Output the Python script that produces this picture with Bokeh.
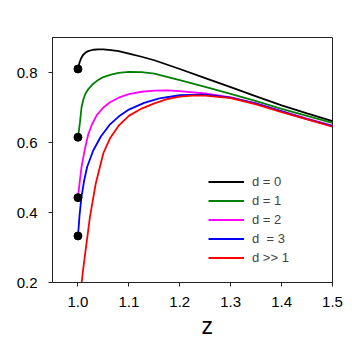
from bokeh.plotting import figure
from bokeh.models import Range1d, FixedTicker, Legend, LegendItem, Title, PrintfTickFormatter
from bokeh.embed import file_html
from bokeh.resources import INLINE

# d = 0
z_d0 = [1.0, 1.003, 1.006, 1.01, 1.015, 1.02, 1.03, 1.04, 1.05, 1.065, 1.08, 1.1, 1.125, 1.15, 1.2, 1.25, 1.3, 1.35, 1.4, 1.45, 1.5]
v_d0 = [0.81, 0.828, 0.84, 0.85, 0.857, 0.861, 0.865, 0.866, 0.866, 0.864, 0.861, 0.854, 0.845, 0.835, 0.810, 0.784, 0.758, 0.732, 0.706, 0.683, 0.661]
# d = 1
z_d1 = [1.0, 1.002, 1.004, 1.007, 1.011, 1.015, 1.02, 1.03, 1.04, 1.05, 1.065, 1.08, 1.1, 1.125, 1.15, 1.2, 1.25, 1.3, 1.35, 1.4, 1.45, 1.5]
v_d1 = [0.615, 0.635, 0.658, 0.700, 0.725, 0.740, 0.752, 0.768, 0.779, 0.787, 0.794, 0.799, 0.802, 0.801, 0.797, 0.778, 0.759, 0.739, 0.718, 0.696, 0.676, 0.656]
# d = 2
z_d2 = [1.0, 1.001, 1.003, 1.007, 1.013, 1.02, 1.027, 1.037, 1.05, 1.063, 1.08, 1.1, 1.125, 1.15, 1.175, 1.2, 1.25, 1.3, 1.35, 1.4, 1.45, 1.5]
v_d2 = [0.4425, 0.455, 0.482, 0.530, 0.577, 0.622, 0.650, 0.678, 0.700, 0.715, 0.728, 0.738, 0.745, 0.748, 0.749, 0.747, 0.740, 0.729, 0.712, 0.690, 0.668, 0.648]
# d = 3
z_d3 = [1.0, 1.0015, 1.003, 1.0067, 1.012, 1.018, 1.03, 1.045, 1.063, 1.08, 1.1, 1.13, 1.16, 1.2, 1.25, 1.3, 1.35, 1.4, 1.45, 1.5]
v_d3 = [0.333, 0.36, 0.39, 0.4425, 0.490, 0.530, 0.577, 0.617, 0.652, 0.674, 0.694, 0.713, 0.726, 0.735, 0.737, 0.728, 0.711, 0.689, 0.667, 0.647]
# d >> 1
z_inf = [1.0073, 1.010, 1.015, 1.0235, 1.035, 1.05, 1.063, 1.08, 1.1, 1.125, 1.15, 1.175, 1.2, 1.225, 1.25, 1.3, 1.35, 1.4, 1.45, 1.5]
v_inf = [0.20, 0.235, 0.292, 0.387, 0.483, 0.570, 0.612, 0.648, 0.676, 0.697, 0.712, 0.724, 0.731, 0.734, 0.734, 0.727, 0.709, 0.687, 0.666, 0.645]

# end points at z = 1
dot_z = [1.0, 1.0, 1.0, 1.0]
dot_v = [0.81, 0.615, 0.4425, 0.333]

labels = ["d = 0", "d = 1", "d = 2", "d  = 3", "d >> 1"]
colors = ["black", "#008000", "#ff00ff", "#0000ff", "#ff0000"]
x_ticks = [1.0, 1.1, 1.2, 1.3, 1.4, 1.5]
y_ticks = [0.2, 0.4, 0.6, 0.8]

FONT = "Liberation Sans"

p = figure(frame_width=280, frame_height=245,
           x_range=Range1d(0.95, 1.5), y_range=Range1d(0.2, 0.9),
           output_backend="svg", toolbar_location=None,
           min_border_left=52, min_border_top=37,
           min_border_right=20, min_border_bottom=63)

p.grid.visible = False
p.outline_line_color = "#222222"
p.outline_line_width = 1
p.background_fill_color = "white"
p.border_fill_color = "white"

for ax in (p.xaxis[0], p.yaxis[0]):
    ax.major_tick_in = 0
    ax.major_tick_out = 4
    ax.minor_tick_line_color = None
    ax.axis_line_color = "#222222"
    ax.major_tick_line_color = "#222222"
    ax.major_label_text_font = FONT
    ax.major_label_text_font_size = "15px"
    ax.major_label_text_color = "black"
    ax.formatter = PrintfTickFormatter(format="%.1f")

p.xaxis[0].ticker = FixedTicker(ticks=x_ticks)
p.yaxis[0].ticker = FixedTicker(ticks=y_ticks)
p.xaxis[0].major_label_standoff = 10
p.yaxis[0].major_label_standoff = 11

series = [(z_d0, v_d0), (z_d1, v_d1), (z_d2, v_d2), (z_d3, v_d3), (z_inf, v_inf)]
items = []
for (zz, vv), c, lab in zip(series, colors, labels):
    r = p.line(zz, vv, line_color=c, line_width=1.8)
    items.append(LegendItem(label=lab, renderers=[r]))

p.scatter(dot_z, dot_v, size=8, color="black")

legend = Legend(items=items, location=(156, 15),
                border_line_alpha=0, background_fill_alpha=0,
                label_text_font=FONT, label_text_font_size="13px",
                glyph_width=36, glyph_height=19, label_height=19,
                spacing=0, padding=0, margin=0, label_standoff=8)
p.add_layout(legend)

p.add_layout(Title(text="z", align="left", offset=149,
                   text_font=FONT, text_font_size="23px",
                   text_font_style="normal", text_color="black",
                   standoff=2), "below")

open("out.html", "w").write(file_html(p, INLINE))
